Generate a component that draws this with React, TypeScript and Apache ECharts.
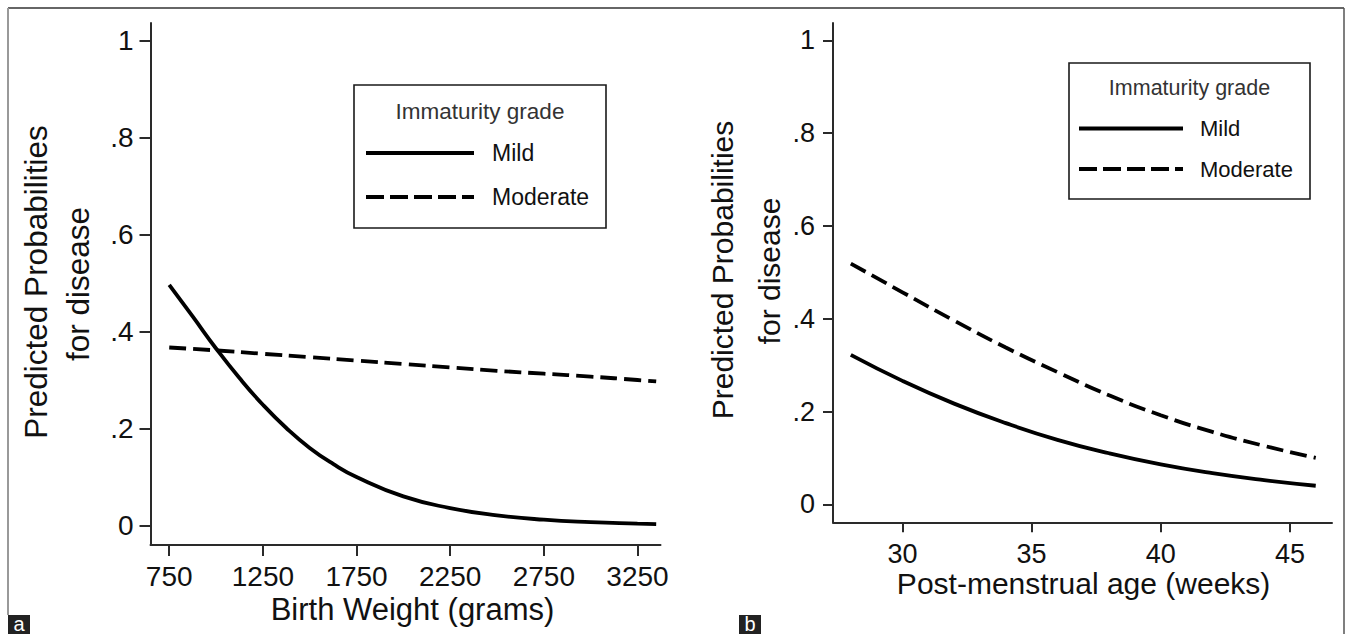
import React, { useEffect, useRef } from "react";
import * as echarts from "echarts";

// ---- Data ----
const weightX = [750, 875, 1000, 1125, 1250, 1375, 1500, 1625, 1750, 2000, 2250, 2500, 2750, 3000, 3250, 3350];
const weightMild = [0.497, 0.432, 0.366, 0.305, 0.25, 0.202, 0.161, 0.128, 0.101, 0.061, 0.037, 0.022, 0.013, 0.008, 0.005, 0.004];
const weightModX = [750, 1000, 1250, 1500, 1750, 2000, 2250, 2500, 2750, 3000, 3250, 3350];
const weightModerate = [0.368, 0.362, 0.355, 0.348, 0.341, 0.334, 0.327, 0.32, 0.314, 0.308, 0.301, 0.298];

const ageX = [28, 30, 32, 34, 36, 38, 40, 42, 44, 46];
const ageMild = [0.322, 0.266, 0.217, 0.175, 0.139, 0.11, 0.086, 0.067, 0.052, 0.04];
const ageModerate = [0.519, 0.457, 0.396, 0.338, 0.285, 0.235, 0.192, 0.156, 0.126, 0.1];

const weightTicks = [750, 1250, 1750, 2250, 2750, 3250];
const ageTicks = [30, 35, 40, 45];
const probTicks = [0, 0.2, 0.4, 0.6, 0.8, 1];

const seriesNames = ["Mild", "Moderate"];
const legendTitle = "Immaturity grade";
const yTitle1 = "Predicted Probabilities";
const yTitle2 = "for disease";
const xTitleA = "Birth Weight (grams)";
const xTitleB = "Post-menstrual age (weeks)";

const FONT = "'Liberation Sans', Arial, sans-serif";
const INK = "#111";
const AXIS = "#2a2a2a";

const pairs = (xs: number[], ys: number[]) => xs.map((x, i) => [x, ys[i]]);
const probFmt = (v: number) => (v === 0 ? "0" : v === 1 ? "1" : String(Number(v.toFixed(1))).replace(/^0/, ""));
const plainFmt = (v: number) => String(v);

function makeXAxis(grid: number, min: number, max: number, ticks: number[], fs: number, margin: number, tick: number) {
  return {
    gridIndex: grid,
    type: "value",
    min,
    max,
    axisLine: { show: true, onZero: false, lineStyle: { color: AXIS, width: 2 } },
    axisTick: { show: true, length: tick, customValues: ticks, lineStyle: { color: AXIS, width: 2 } },
    axisLabel: { customValues: ticks, margin, fontSize: fs, color: INK, fontFamily: FONT, formatter: plainFmt },
    splitLine: { show: false },
  };
}

function makeYAxis(grid: number, min: number, max: number, fs: number, margin: number, tick: number) {
  return {
    gridIndex: grid,
    type: "value",
    min,
    max,
    axisLine: { show: true, onZero: false, lineStyle: { color: AXIS, width: 2 } },
    axisTick: { show: true, length: tick, customValues: probTicks, lineStyle: { color: AXIS, width: 2 } },
    axisLabel: { customValues: probTicks, margin, fontSize: fs, color: INK, fontFamily: FONT, formatter: probFmt },
    splitLine: { show: false },
  };
}

function lineSeries(name: string, data: number[][], idx: number, dashed: boolean) {
  return {
    name,
    type: "line",
    xAxisIndex: idx,
    yAxisIndex: idx,
    data,
    smooth: 0.5,
    symbol: "none",
    lineStyle: { color: "#000", width: 3.8, type: dashed ? [17, 7] : "solid" },
    z: 3,
  };
}

function legendGraphics(bx: number, by: number, bw: number, bh: number, titleY: number, tfs: number, lx1: number, lx2: number, y1: number, y2: number, tx: number, fs: number) {
  return [
    { type: "rect", shape: { x: bx, y: by, width: bw, height: bh }, style: { fill: "#fff", stroke: "#1a1a1a", lineWidth: 1.6 }, z: 10 },
    { type: "text", x: bx + bw / 2, y: titleY, style: { text: legendTitle, fontSize: tfs, fontFamily: FONT, fill: "#333", align: "center", verticalAlign: "middle" }, z: 11 },
    { type: "line", shape: { x1: lx1, y1: y1, x2: lx2, y2: y1 }, style: { stroke: "#000", lineWidth: 4 }, z: 11 },
    { type: "text", x: tx, y: y1, style: { text: seriesNames[0], fontSize: fs, fontFamily: FONT, fill: INK, align: "left", verticalAlign: "middle" }, z: 11 },
    { type: "line", shape: { x1: lx1, y1: y2, x2: lx2, y2: y2 }, style: { stroke: "#000", lineWidth: 4, lineDash: [18, 6] }, z: 11 },
    { type: "text", x: tx, y: y2, style: { text: seriesNames[1], fontSize: fs, fontFamily: FONT, fill: INK, align: "left", verticalAlign: "middle" }, z: 11 },
  ];
}

function rotText(text: string, x: number, y: number, fs: number) {
  return {
    type: "text",
    x,
    y,
    rotation: Math.PI / 2,
    style: { text, fontSize: fs, fontFamily: FONT, fill: INK, align: "center", verticalAlign: "middle" },
  };
}

function panelLabel(text: string, x: number) {
  return [
    { type: "rect", shape: { x, y: 615, width: 22, height: 19 }, style: { fill: "#222" } },
    { type: "text", x: x + 11, y: 624, style: { text, fontSize: 20, fontFamily: FONT, fill: "#fff", align: "center", verticalAlign: "middle" } },
  ];
}

export default function App() {
  const ref = useRef<HTMLDivElement>(null);
  useEffect(() => {
    if (!ref.current) return;
    const chart = echarts.init(ref.current, undefined, { renderer: "svg" });
    const option = {
      animation: false,
      backgroundColor: "#fff",
      grid: [
        { left: 150.5, top: 23, width: 510, height: 522 },
        { left: 833, top: 23, width: 499, height: 499.3 },
      ],
      xAxis: [
        makeXAxis(0, 650, 3373, weightTicks, 28, 17, 11),
        makeXAxis(1, 27.31, 46.63, ageTicks, 27, 18, 10),
      ],
      yAxis: [
        makeYAxis(0, -0.0392, 1.0371, 28, 17, 11),
        makeYAxis(1, -0.0388, 1.0375, 27, 18, 10),
      ],
      series: [
        lineSeries(seriesNames[0], pairs(weightX, weightMild), 0, false),
        lineSeries(seriesNames[1], pairs(weightModX, weightModerate), 0, true),
        lineSeries(seriesNames[0], pairs(ageX, ageMild), 1, false),
        lineSeries(seriesNames[1], pairs(ageX, ageModerate), 1, true),
      ],
      graphic: [
        // outer frame
        { type: "line", shape: { x1: 8, y1: 8, x2: 1344, y2: 8 }, style: { stroke: "#333", lineWidth: 1.5 } },
        { type: "line", shape: { x1: 8, y1: 8, x2: 8, y2: 615 }, style: { stroke: "#999", lineWidth: 2 } },
        { type: "line", shape: { x1: 1344, y1: 8, x2: 1344, y2: 634 }, style: { stroke: "#555", lineWidth: 1.5 } },
        ...panelLabel("a", 8),
        ...panelLabel("b", 739),
        // axis titles
        { type: "text", x: 412.5, y: 609, style: { text: xTitleA, fontSize: 31, fontFamily: FONT, fill: INK, align: "center", verticalAlign: "middle" } },
        { type: "text", x: 1083.6, y: 583, style: { text: xTitleB, fontSize: 30, fontFamily: FONT, fill: INK, align: "center", verticalAlign: "middle" } },
        rotText(yTitle1, 36, 282, 31.5),
        rotText(yTitle2, 78, 284, 31.5),
        rotText(yTitle1, 722, 270, 30),
        rotText(yTitle2, 769, 271, 30),
        ...legendGraphics(354, 85, 252, 143, 111, 22.5, 366, 474, 153, 197, 492, 23),
        ...legendGraphics(1069, 63, 241, 136, 88, 21.5, 1079, 1183, 128.6, 169, 1200, 22),
      ],
    };
    chart.setOption(option as any);
    return () => chart.dispose();
  }, []);
  return <div ref={ref} style={{ position: "fixed", left: 0, top: 0, width: 1346, height: 634 }} />;
}
